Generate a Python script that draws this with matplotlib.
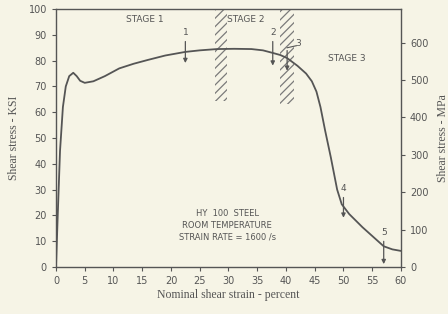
import matplotlib.pyplot as plt
from matplotlib.patches import Rectangle

# HY 100 steel, torsion test curve
strain = [0, 0.3, 0.7, 1.2, 1.7, 2.3, 3.0, 3.6, 4.2, 5.0, 6.5, 8.5, 11, 13.5, 16, 19,
          22.5, 25, 28, 31, 34, 36, 37.7, 39, 40.2, 42, 43.5, 44.5, 45.3, 46.0, 46.8,
          47.8, 48.9, 49.7, 51, 53.3, 55, 57, 58.5, 60]
stress = [0, 20, 45, 62, 70, 74, 75.3, 74, 72.2, 71.4, 72, 74, 77, 78.8, 80.3, 82,
          83.4, 84, 84.5, 84.6, 84.5, 84, 83, 82.2, 81, 78, 75, 72, 68, 62, 53,
          42.5, 30, 24.3, 20.5, 15.4, 12, 8, 6.8, 6.2]

# strain markers: label, strain, arrow top, arrow bottom
marker_ids = ["1", "2", "3", "4", "5"]
marker_x = [22.5, 37.7, 40.2, 50.0, 57.0]
marker_top = [88.5, 88.5, 85, 28, 11]
marker_bot = [78, 77, 75, 18, 0]

bands = [(27.7, 29.7, 64.5), (39.0, 41.4, 63.0)]
stages = ["STAGE 1", "STAGE 2", "STAGE 3"]
stage_x = [15.5, 33.0, 50.6]
stage_y = [96, 96, 80.7]

KSI_TO_MPA = 6.895

ink = "#555555"
bg = "#f6f4e6"

plt.rcParams["hatch.linewidth"] = 0.9

fig = plt.figure(figsize=(4.48, 3.14), dpi=100, facecolor=bg)
ax = fig.add_axes([0.125, 0.150, 0.770, 0.821], facecolor=bg)

ax.plot(strain, stress, color=ink, lw=1.3)

for x0, x1, ybot in bands:
    ax.add_patch(Rectangle((x0, ybot), x1 - x0, 100 - ybot, fill=False,
                           hatch="////", edgecolor="#7a7a7a", lw=0))

for s, sx, sy in zip(stages, stage_x, stage_y):
    ax.text(sx, sy, s, ha="center", va="center", fontsize=6.5, color=ink)

for lab, mx, top, bot in zip(marker_ids, marker_x, marker_top, marker_bot):
    ax.annotate("", xy=(mx, bot), xytext=(mx, top),
                arrowprops=dict(arrowstyle="-|>", color=ink, lw=0.9, mutation_scale=6))
    if lab == "3":
        ax.plot([mx, mx + 1.6], [top, top + 0.8], color=ink, lw=0.8)
        ax.text(mx + 2.0, top + 1.5, lab, ha="center", va="center", fontsize=6.5, color=ink)
    else:
        ax.text(mx, top + 2.5, lab, ha="center", va="center", fontsize=6.5, color=ink)

ax.text(29.8, 20.8, "HY  100  STEEL", ha="center", va="center", fontsize=6, color=ink)
ax.text(29.8, 16.2, "ROOM TEMPERATURE", ha="center", va="center", fontsize=6, color=ink)
ax.text(29.8, 11.6, "STRAIN RATE = 1600 /s", ha="center", va="center", fontsize=6, color=ink)

ax.set_xlim(0, 60)
ax.set_ylim(0, 100)
ax.set_xticks(range(0, 61, 5))
ax.set_yticks(range(0, 101, 10))
ax.tick_params(colors=ink, labelsize=7, length=3, width=0.8)
for sp in ax.spines.values():
    sp.set_color(ink)
    sp.set_linewidth(1.0)
ax.set_xlabel("Nominal shear strain - percent", family="Liberation Serif",
              fontsize=8.5, color=ink, labelpad=2)
ax.set_ylabel("Shear stress - KSI", family="Liberation Serif",
              fontsize=8.5, color=ink, labelpad=6)

ax2 = ax.twinx()
ax2.set_ylim(0, 100 * KSI_TO_MPA)
ax2.set_yticks(range(0, 601, 100))
ax2.tick_params(colors=ink, labelsize=7, length=3, width=0.8)
for sp in ax2.spines.values():
    sp.set_visible(False)
ax2.set_ylabel("Shear stress - MPa", family="Liberation Serif",
               fontsize=8.5, color=ink, labelpad=6)

fig.savefig("out.png", dpi=100, facecolor=bg)
